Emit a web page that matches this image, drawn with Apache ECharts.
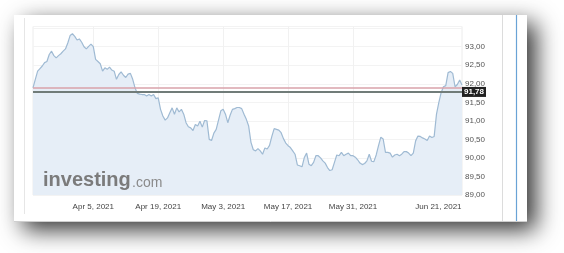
<!DOCTYPE html>
<html><head><meta charset="utf-8">
<script src="https://cdn.jsdelivr.net/npm/echarts@6/dist/echarts.min.js"></script>
<style>html,body{margin:0;padding:0;background:#fff}#c{width:564px;height:253px}</style>
</head><body><div id="c"></div>
<script>
// Series: 12-hour steps starting Mar 23, 2021
const startUTC = Date.UTC(2021, 2, 23);
const stepHours = 12;
const values = [
91.89,92.12,92.34,92.41,92.48,92.57,92.60,92.79,92.88,92.76,
92.70,92.76,92.81,92.88,92.94,93.10,93.30,93.35,93.28,93.18,
93.21,93.12,93.00,92.94,93.01,93.07,93.00,92.66,92.60,92.54,
92.34,92.43,92.39,92.45,92.37,92.34,92.12,92.25,92.32,92.23,
92.17,92.26,92.28,92.12,91.89,91.74,91.72,91.71,91.71,91.67,
91.71,91.67,91.71,91.60,91.62,91.31,91.13,91.02,91.08,91.22,
91.35,91.18,91.35,91.24,91.31,91.18,90.95,90.84,90.81,90.74,
90.90,90.86,90.99,90.83,91.01,91.00,90.50,90.47,90.67,90.77,
91.02,91.27,91.31,91.18,90.95,91.15,91.31,91.33,91.36,91.36,
91.33,91.18,91.04,90.86,90.42,90.22,90.19,90.25,90.19,90.10,
90.27,90.24,90.34,90.58,90.79,90.77,90.75,90.68,90.52,90.40,
90.33,90.28,90.19,90.10,89.81,89.79,89.76,90.01,90.13,89.83,
89.79,89.88,90.06,90.06,90.00,89.92,89.86,89.74,89.66,89.68,
89.88,90.08,90.06,90.15,90.06,90.10,90.13,90.06,90.06,90.02,
89.95,89.86,89.82,89.85,89.92,90.10,89.91,89.90,90.08,90.33,
90.56,90.51,90.15,90.15,90.13,90.02,90.08,90.10,90.06,90.10,
90.17,90.17,90.13,90.06,90.13,90.46,90.59,90.58,90.54,90.51,
90.47,90.59,90.55,90.58,91.18,91.49,91.76,91.92,91.95,92.30,
92.33,92.28,91.92,91.98,92.10,91.97
];
const tickLabels = ['Apr 5, 2021','Apr 19, 2021','May 3, 2021','May 17, 2021','May 31, 2021','Jun 21, 2021'];
const lastLabel = 'Jun 21, 2021';
const lastPrice = 91.78;
const refLevel = 91.90;
const yMin = 89, yMax = 93.545, yStep = 0.5;

const months = ['Jan','Feb','Mar','Apr','May','Jun','Jul','Aug','Sep','Oct','Nov','Dec'];
const categories = values.map((v, j) => {
  const d = new Date(startUTC + j * stepHours * 3600000);
  return months[d.getUTCMonth()] + ' ' + d.getUTCDate() + ', ' + d.getUTCFullYear() + (d.getUTCHours() ? ' 12h' : ' 00h');
});
const isTick = (name) => tickLabels.some(t => name === t + ' 00h');
const fmt = (v) => v.toFixed(2).replace('.', ',');

const chart = echarts.init(document.getElementById('c'), null, {renderer: 'canvas'});
chart.setOption({
  animation: false,
  backgroundColor: '#fff',
  graphic: [
    {type: 'rect', z: -10, shape: {x: 14, y: 15, width: 513, height: 207},
     style: {fill: '#fff', shadowBlur: 22, shadowColor: 'rgba(0,0,0,0.8)', shadowOffsetX: 9, shadowOffsetY: 8}},
    {type: 'line', z: -9, shape: {x1: 24.5, y1: 18, x2: 24.5, y2: 214}, style: {stroke: '#e6e6e6', lineWidth: 1}},
    {type: 'line', z: -9, shape: {x1: 502.5, y1: 15, x2: 502.5, y2: 222}, style: {stroke: '#dcdcdc', lineWidth: 1}},
    {type: 'line', z: -9, shape: {x1: 516.5, y1: 15, x2: 516.5, y2: 222}, style: {stroke: '#6aa3d6', lineWidth: 1.2}},
    {type: 'line', z: -9, shape: {x1: 14, y1: 221.5, x2: 527, y2: 221.5}, style: {stroke: '#cfcfcf', lineWidth: 1}},
    {type: 'text', z: 10, left: 43, top: 170,
     style: {text: 'investing', font: 'bold 20px "Liberation Sans", Arial, sans-serif', fill: '#7b7b7b'}},
    {type: 'text', z: 10, left: 132, top: 176,
     style: {text: '.com', font: '14px "Liberation Sans", Arial, sans-serif', fill: '#8a8a8a'}}
  ],
  grid: {left: 33, right: 102, top: 26.5, bottom: 58, show: true, borderColor: '#ececec', borderWidth: 1},
  xAxis: {
    type: 'category', data: categories, boundaryGap: false,
    axisLine: {show: false}, axisTick: {show: false},
    axisLabel: {
      interval: (i, name) => isTick(name), margin: 8,
      fontFamily: '"Liberation Sans", Arial, sans-serif', fontSize: 8, color: '#444',
      formatter: (name) => {
        const t = name.replace(' 00h', '');
        return t === lastLabel ? '{s|' + t + '}' : '{n|' + t + '}';
      },
      rich: {
        s: {fontSize: 8, color: '#444', fontFamily: '"Liberation Sans", Arial, sans-serif', padding: [0, 24, 0, 0]},
        n: {fontSize: 8, color: '#444', fontFamily: '"Liberation Sans", Arial, sans-serif'}
      }
    },
    splitLine: {show: true, interval: (i, name) => isTick(name) && !name.startsWith(lastLabel), lineStyle: {color: '#f1f1f1'}}
  },
  yAxis: {
    type: 'value', position: 'right', min: yMin, max: yMax, interval: yStep,
    axisLine: {show: false}, axisTick: {show: false},
    axisLabel: {margin: 3, fontFamily: '"Liberation Sans", Arial, sans-serif', fontSize: 8, color: '#555',
      formatter: (v) => v > 93.2 ? '' : fmt(v)},
    splitLine: {lineStyle: {color: '#f3f3f3'}}
  },
  series: [{
    type: 'line', data: values, symbol: 'none', smooth: false,
    lineStyle: {color: '#9fbad3', width: 1.2},
    areaStyle: {color: '#e6eef7', opacity: 1},
    markLine: {
      silent: true, symbol: 'none', animation: false,
      data: [
        {yAxis: refLevel, lineStyle: {color: '#d9a2aa', width: 1.5, type: 'solid'}, label: {show: false}},
        {yAxis: lastPrice, lineStyle: {color: '#717c79', width: 2, type: 'solid'},
         label: {show: true, position: 'end', distance: 0, formatter: () => fmt(lastPrice),
           backgroundColor: '#222', color: '#fff', fontSize: 8, fontWeight: 'bold',
           fontFamily: '"Liberation Sans", Arial, sans-serif', padding: [1, 2, 1, 2]}}
      ]
    }
  }]
});
</script>
</body></html>
